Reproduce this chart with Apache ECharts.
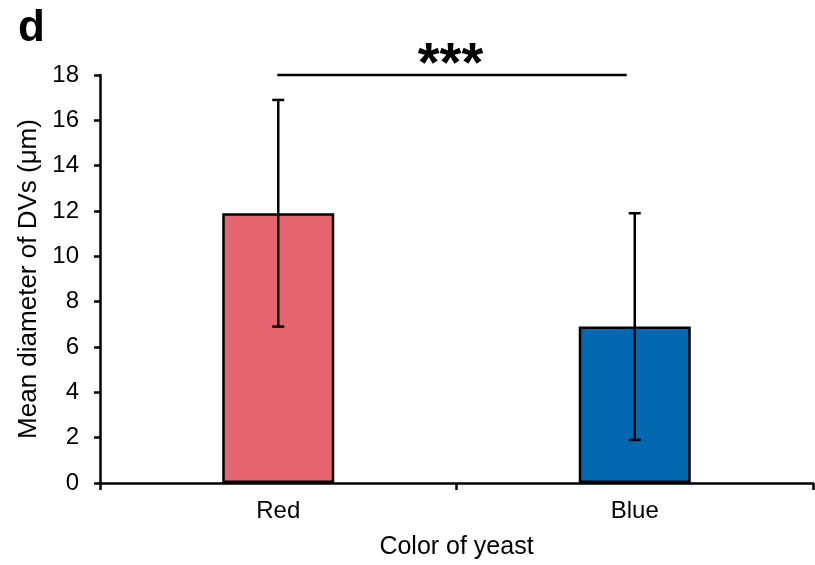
<!DOCTYPE html>
<html>
<head>
<meta charset="utf-8">
<script src="https://cdn.jsdelivr.net/npm/echarts@6/dist/echarts.min.js"></script>
<style>
html, body { margin: 0; padding: 0; background: #fff; }
#chart { width: 815px; height: 565px; }
</style>
</head>
<body>
<div id="chart"></div>
<script>
// data
var categories = ['Red', 'Blue'];
var meanValues = [11.9, 6.9];
var errValues = [5.0, 5.0];
var barColors = ['#E66570', '#0167B1'];
var yTicks = [0, 2, 4, 6, 8, 10, 12, 14, 16, 18];
var sigPair = [0, 1];
var sigLevel = 18;
var sigText = '***';

var myChart = echarts.init(document.getElementById('chart'));
var font = 'Liberation Sans, Arial, sans-serif';

var barData = [];
var errData = [];
for (var i = 0; i < categories.length; i++) {
    barData.push({ value: meanValues[i], itemStyle: { color: barColors[i] } });
    errData.push([i, meanValues[i] - errValues[i], meanValues[i] + errValues[i]]);
}

var option = {
    animation: false,
    backgroundColor: '#fff',
    title: {
        text: 'd',
        left: 13,
        top: 2,
        textStyle: { fontFamily: font, fontSize: 44, fontWeight: 'bold', color: '#000' }
    },
    grid: { left: 100, right: 2, top: 75, bottom: 80 },
    xAxis: {
        type: 'category',
        data: categories,
        name: 'Color of yeast',
        nameLocation: 'middle',
        nameGap: 52,
        nameTextStyle: { fontFamily: font, fontSize: 25, color: '#000' },
        axisLine: { lineStyle: { color: '#000', width: 2.5 } },
        axisTick: { show: true, length: 7, lineStyle: { color: '#000', width: 2.5 } },
        axisLabel: { fontFamily: font, fontSize: 24, color: '#000', margin: 16 }
    },
    yAxis: {
        type: 'value',
        min: yTicks[0],
        max: yTicks[yTicks.length - 1],
        interval: 2,
        name: 'Mean diameter of DVs (\u03bcm)',
        nameLocation: 'middle',
        nameGap: 58,
        nameTextStyle: { fontFamily: font, fontSize: 26, color: '#000' },
        splitLine: { show: false },
        axisLine: { show: true, lineStyle: { color: '#000', width: 2.5 } },
        axisTick: { show: true, length: 6, lineStyle: { color: '#000', width: 2.5 } },
        axisLabel: { fontFamily: font, fontSize: 24, color: '#000', margin: 21 }
    },
    series: [
        {
            type: 'bar',
            data: barData,
            barWidth: 112,
            itemStyle: { borderColor: '#000', borderWidth: 2.5 }
        },
        {
            // error bars
            type: 'custom',
            data: errData,
            z: 10,
            renderItem: function (params, api) {
                var x = api.value(0);
                var lo = api.coord([x, api.value(1)]);
                var hi = api.coord([x, api.value(2)]);
                var w = 6;
                var st = { stroke: '#000', lineWidth: 2.5 };
                return {
                    type: 'group',
                    children: [
                        { type: 'line', shape: { x1: hi[0], y1: hi[1], x2: lo[0], y2: lo[1] }, style: st },
                        { type: 'line', shape: { x1: hi[0] - w, y1: hi[1], x2: hi[0] + w, y2: hi[1] }, style: st },
                        { type: 'line', shape: { x1: lo[0] - w, y1: lo[1], x2: lo[0] + w, y2: lo[1] }, style: st }
                    ]
                };
            }
        },
        {
            // significance bracket
            type: 'custom',
            data: [[sigPair[0], sigPair[1], sigLevel]],
            z: 10,
            renderItem: function (params, api) {
                var a = api.coord([api.value(0), api.value(2)]);
                var b = api.coord([api.value(1), api.value(2)]);
                return {
                    type: 'group',
                    children: [
                        { type: 'line', shape: { x1: a[0] - 1, y1: a[1], x2: b[0] - 8, y2: b[1] }, style: { stroke: '#000', lineWidth: 2.5 } },
                        {
                            type: 'text',
                            style: {
                                x: (a[0] + b[0]) / 2 - 6, y: a[1] + 19,
                                text: sigText,
                                align: 'center', verticalAlign: 'bottom',
                                font: 'bold 56px ' + font, fill: '#000'
                            }
                        }
                    ]
                };
            }
        }
    ]
};

myChart.setOption(option);
</script>
</body>
</html>
